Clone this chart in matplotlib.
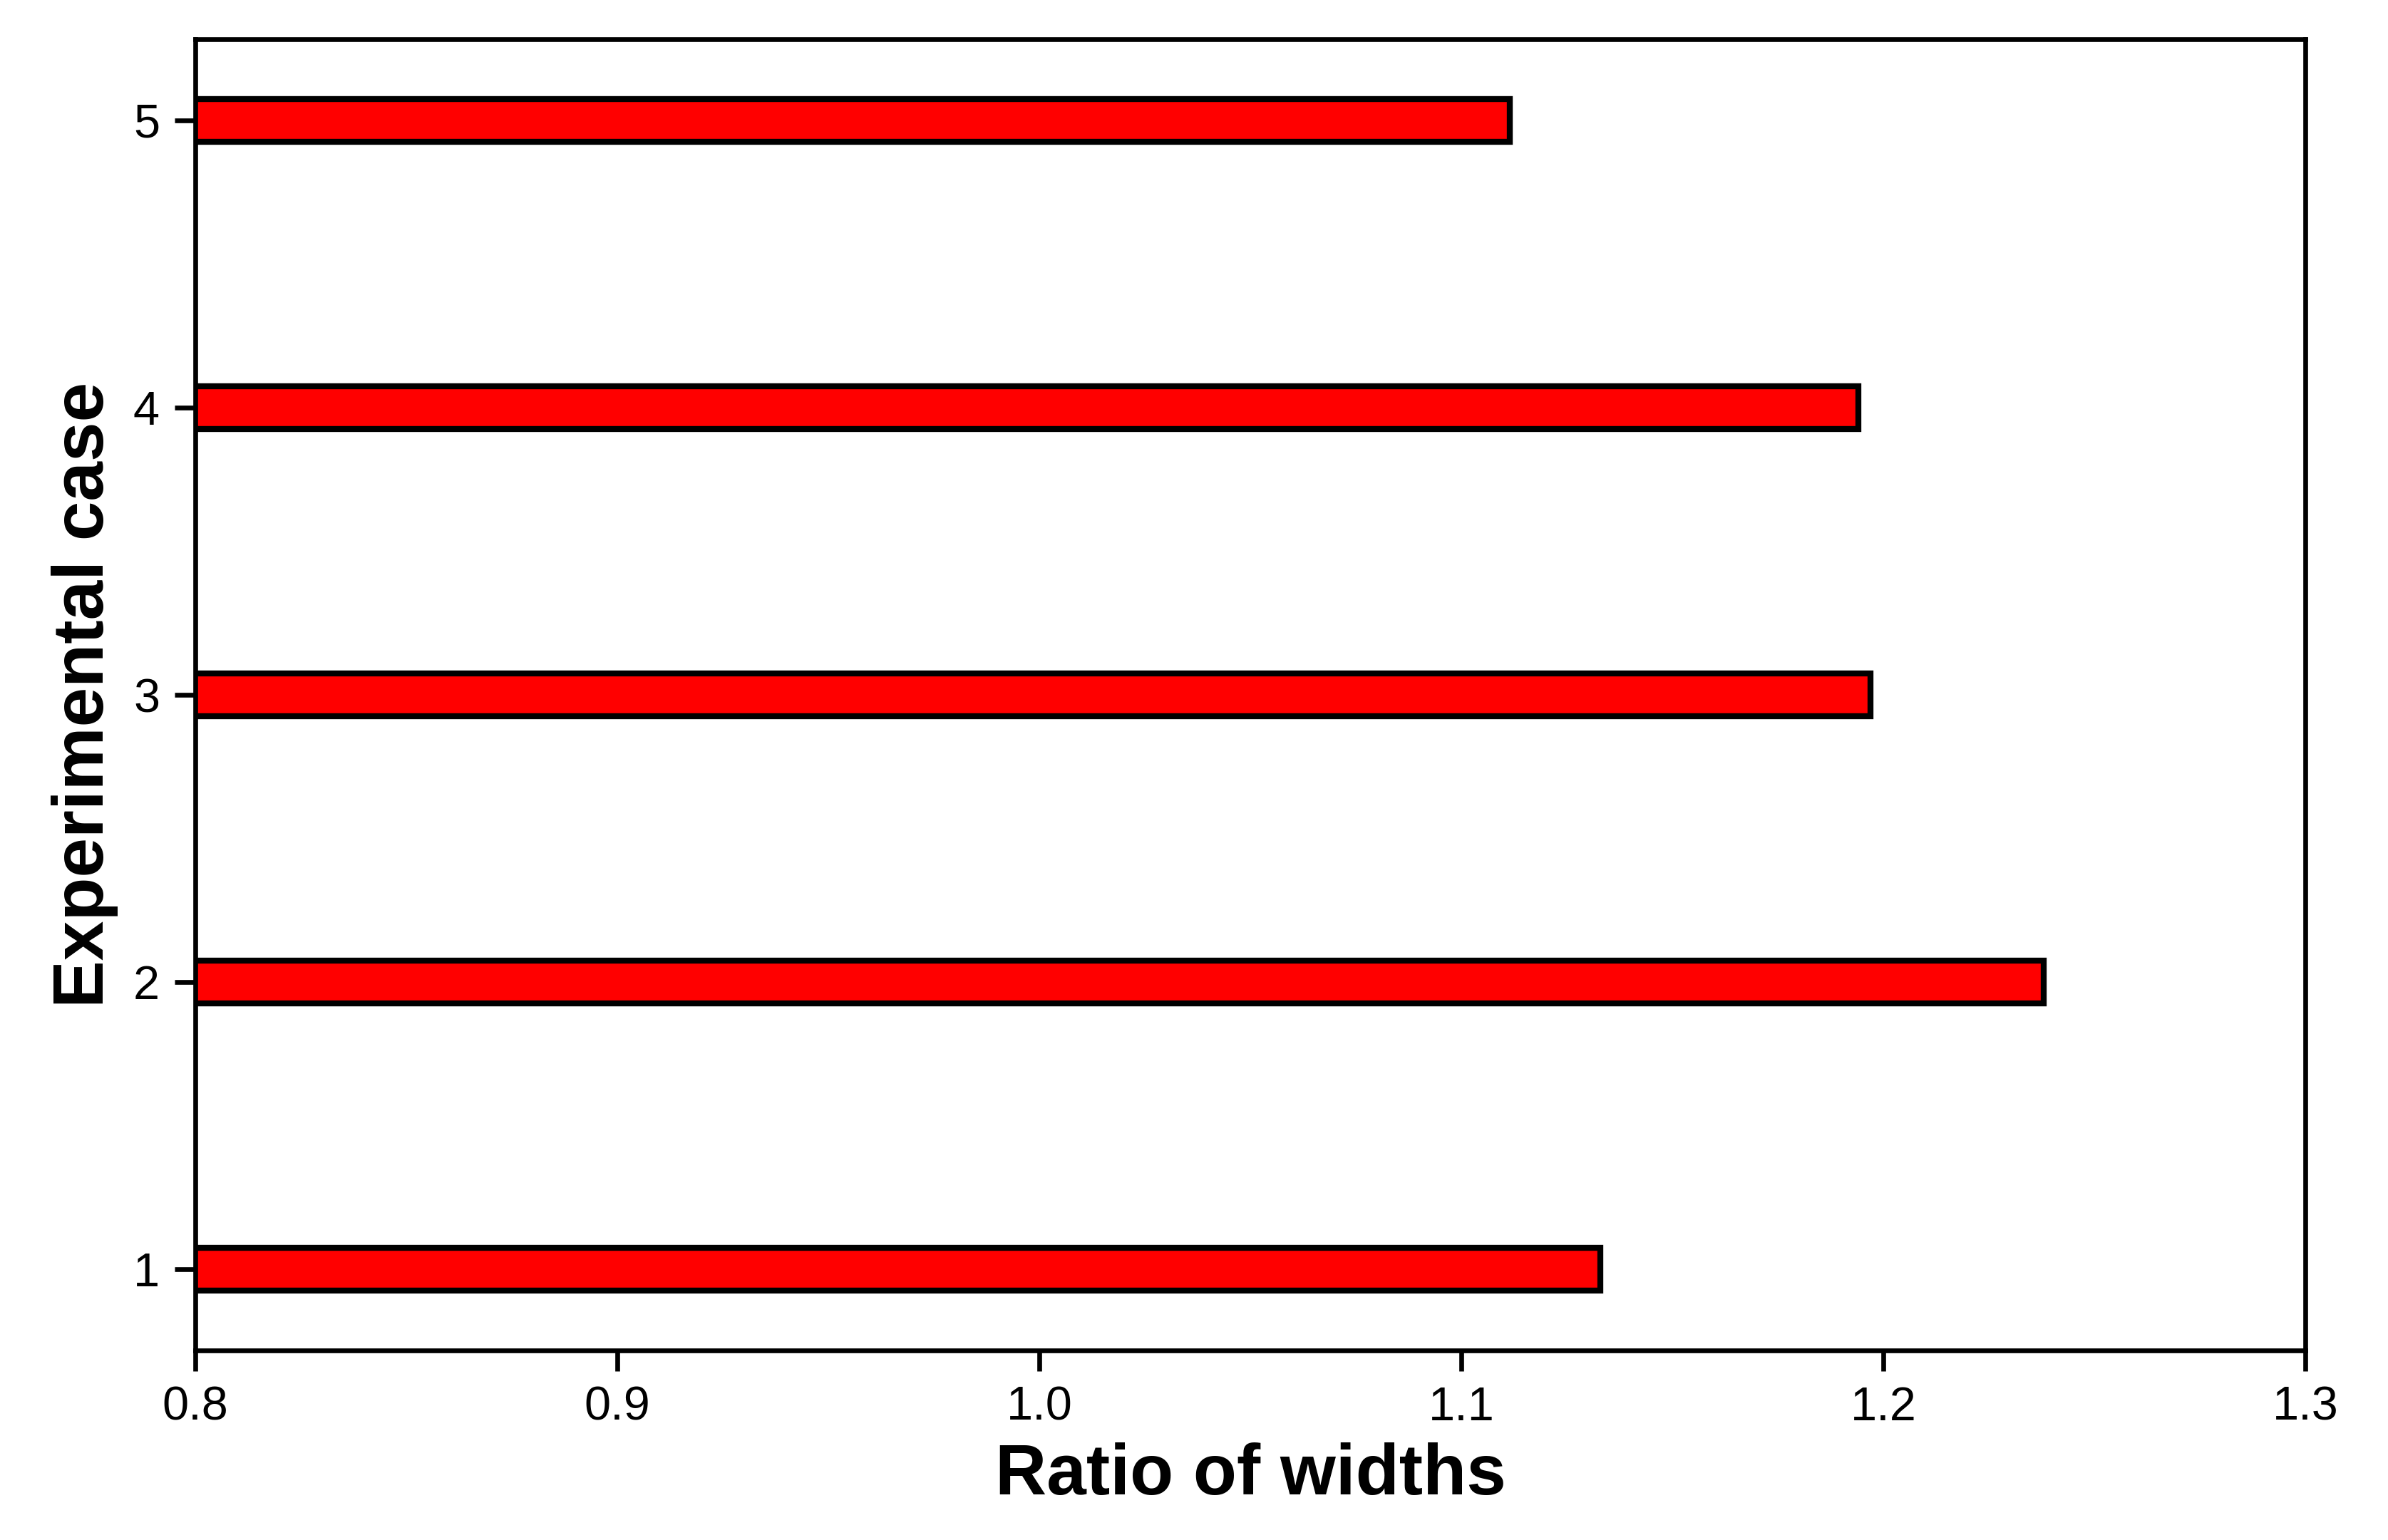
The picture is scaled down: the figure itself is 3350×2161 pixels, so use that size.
import matplotlib
matplotlib.use('Agg')
import matplotlib.pyplot as plt

# Datos
casos = [1, 2, 3, 4, 5]
ratios = [1.133, 1.238, 1.197, 1.194, 1.1115]
ticks_x = [0.8, 0.9, 1.0, 1.1, 1.2, 1.3]

plt.rcParams['font.family'] = ['Liberation Sans', 'DejaVu Sans']

fig = plt.figure(figsize=(3350 / 600, 2161 / 600), dpi=600)
ax = fig.add_axes([0.0818, 0.1231, 0.9654 - 0.0818, 0.9745 - 0.1231])

ax.barh(casos, ratios, height=0.15, color='red', edgecolor='black', linewidth=1.0)
ax.set_xlim(0.8, 1.3)
ax.set_xticks(ticks_x)
ax.set_xticklabels([f'{t:.1f}' for t in ticks_x])
ax.set_yticks(casos)
ax.tick_params(labelsize=8, pad=2.5)

ax.set_xlabel('Ratio of widths', fontsize=12, fontweight='bold', labelpad=2)
ax.set_ylabel('Experimental case', fontsize=12, fontweight='bold', labelpad=2.5)

plt.savefig('out.png', dpi=600)
plt.close()
